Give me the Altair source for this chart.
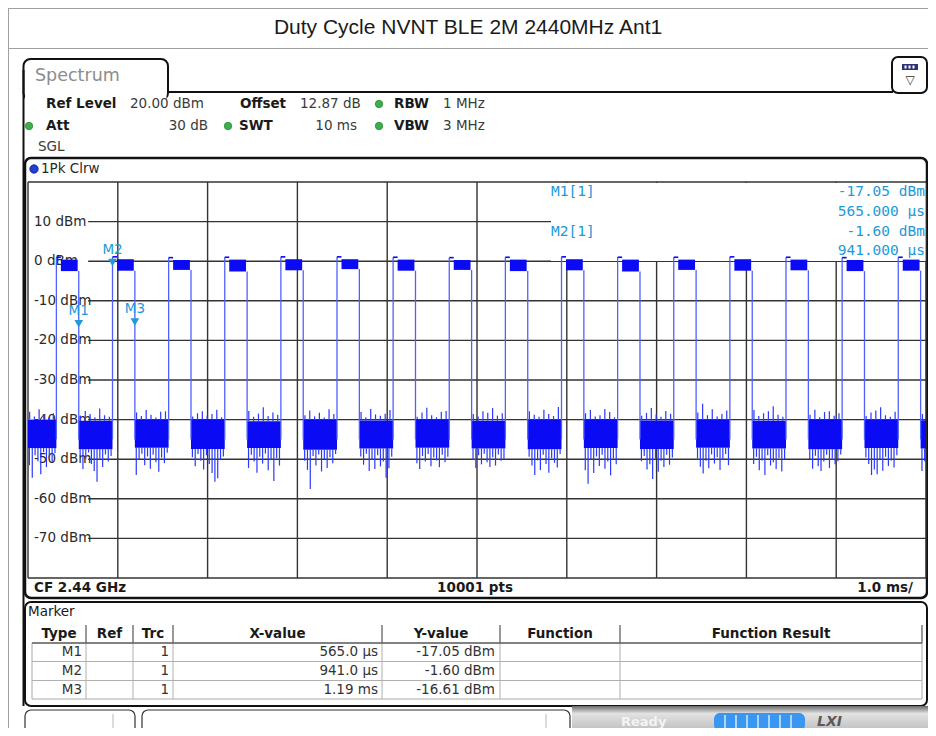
import altair as alt
import pandas as pd

# ---------------- chart values ----------------
title_text = "Duty Cycle NVNT BLE 2M 2440MHz Ant1"

y_tick_dbm = [10, 0, -10, -20, -30, -40, -50, -60, -70]
y_tick_labels = ["10 dBm", "0 dBm", "-10 dBm", "-20 dBm", "-30 dBm",
                 "-40 dBm", "-50 dBm", "-60 dBm", "-70 dBm"]
y_frame_dbm = [20, -80]
x_grid_ms = [0, 1, 2, 3, 4, 5, 6, 7, 8, 9, 10]

# burst edges (ms)
pulse_rise_ms = [0.316, 0.941, 1.566, 2.191, 2.816, 3.441, 4.066, 4.691,
                 5.316, 5.941, 6.566, 7.191, 7.816, 8.441, 9.066, 9.691]
pulse_fall_ms = [0.565, 1.190, 1.815, 2.440, 3.065, 3.690, 4.315, 4.940,
                 5.565, 6.190, 6.815, 7.440, 8.065, 8.690, 9.315, 9.940]
pulse_peak_dbm = [1.0, 1.1, 0.9, 1.0, 1.1, 1.1, 1.0, 0.9,
                  1.0, 1.1, 1.0, 1.0, 1.1, 1.0, 0.9, 1.0]
pulse_top_dbm = [0.4, 0.5, 0.3, 0.4, 0.5, 0.5, 0.4, 0.3,
                 0.4, 0.5, 0.4, 0.4, 0.5, 0.4, 0.3, 0.4]
pulse_bottom_dbm = [-2.5, -2.4, -2.2, -2.6, -2.3, -2.0, -2.4, -2.2,
                    -2.5, -2.3, -2.6, -2.2, -2.4, -2.3, -2.5, -2.4]

# noise floor between bursts
noise_start_ms = [0.000, 0.565, 1.190, 1.815, 2.440, 3.065, 3.690, 4.315, 4.940,
                  5.565, 6.190, 6.815, 7.440, 8.065, 8.690, 9.315, 9.940]
noise_end_ms = [0.316, 0.941, 1.566, 2.191, 2.816, 3.441, 4.066, 4.691, 5.316,
                5.941, 6.566, 7.191, 7.816, 8.441, 9.066, 9.691, 10.000]
noise_top_dbm = [-40.0, -40.3, -40.1, -40.0, -40.4, -40.1, -40.2, -40.0, -40.3,
                 -40.1, -40.0, -40.2, -40.1, -40.3, -40.0, -40.1, -40.2]
noise_bottom_dbm = [-47.2, -47.5, -47.1, -47.4, -47.2, -47.6, -47.3, -47.1, -47.3,
                    -47.5, -47.2, -47.4, -47.1, -47.3, -47.5, -47.2, -47.3]
noise_dips_dbm = [
    [-51.5, -54.7, -49.0, -50.5, -53.8, -48.2, -52.0, -49.5, -50.8, -48.5],
    [-49.0, -52.5, -50.0, -48.3, -51.2, -53.0, -55.7, -49.8, -52.0, -48.8, -50.6, -49.2],
    [-54.0, -50.2, -48.6, -51.5, -49.3, -52.4, -48.9, -50.8, -53.2, -49.6, -51.0, -48.4],
    [-49.5, -51.8, -48.7, -50.4, -52.6, -49.0, -51.2, -53.5, -55.7, -54.8, -50.1, -49.3],
    [-52.2, -48.9, -50.6, -53.4, -49.4, -51.1, -48.6, -52.8, -50.2, -55.5, -49.7, -51.6],
    [-50.4, -52.7, -57.5, -49.2, -51.6, -48.8, -53.1, -50.0, -52.2, -49.5, -51.0, -48.7],
    [-49.3, -51.4, -48.6, -53.0, -50.2, -52.5, -49.0, -51.8, -50.6, -54.7, -52.3, -49.4],
    [-51.0, -52.5, -49.2, -50.6, -48.7, -51.8, -49.6, -50.3, -52.0, -48.9, -50.8, -49.4],
    [-50.2, -52.2, -49.0, -51.3, -48.6, -50.8, -52.0, -49.5, -51.6, -48.8, -50.4, -49.9],
    [-49.4, -51.6, -54.0, -50.3, -52.7, -48.9, -51.2, -53.4, -49.7, -50.9, -52.1, -48.7],
    [-52.8, -56.2, -50.1, -53.5, -49.3, -51.7, -48.9, -52.4, -50.6, -54.1, -49.8, -51.3],
    [-50.5, -49.2, -52.6, -51.3, -55.0, -49.8, -53.2, -50.4, -52.0, -48.9, -51.4, -49.6],
    [-49.8, -51.9, -53.6, -50.4, -52.3, -48.8, -51.1, -49.5, -52.7, -50.2, -48.7, -51.5],
    [-51.2, -49.4, -52.8, -50.3, -54.0, -49.0, -51.6, -50.8, -52.5, -49.7, -53.1, -50.0],
    [-50.0, -52.4, -49.1, -51.8, -53.0, -50.6, -48.9, -52.2, -49.8, -51.3, -50.5, -48.8],
    [-49.6, -51.2, -54.0, -52.6, -53.8, -50.1, -52.9, -49.4, -51.7, -50.3, -52.1, -49.0],
    [-53.0, -50.5],
]
noise_peaks_dbm = [
    [-38.0, -39.2, -37.4, -38.8, -39.5, -38.4],
    [-39.0, -37.8, -38.6, -39.4, -37.2, -38.9, -39.3],
    [-38.2, -39.1, -37.6, -38.8, -39.5, -38.0, -37.9],
    [-39.2, -38.4, -37.9, -39.0, -38.6, -37.5, -39.4],
    [-37.8, -39.3, -38.5, -36.9, -39.1, -38.2, -38.8],
    [-38.9, -37.7, -39.2, -38.3, -39.5, -37.4, -38.6],
    [-38.1, -39.4, -37.3, -38.7, -39.0, -38.5, -37.6],
    [-39.3, -38.2, -37.0, -38.9, -39.4, -38.0, -37.8],
    [-38.6, -39.2, -37.9, -38.3, -37.1, -39.0, -38.4],
    [-37.9, -38.8, -39.3, -37.5, -38.6, -39.1, -36.8],
    [-38.4, -37.6, -39.2, -38.9, -37.3, -38.1, -39.4],
    [-39.0, -38.3, -37.1, -38.7, -39.3, -37.8, -38.5],
    [-38.2, -36.0, -38.9, -37.4, -39.2, -38.6, -37.7],
    [-37.6, -39.1, -38.4, -37.9, -36.6, -38.8, -39.3],
    [-38.8, -37.5, -39.4, -38.1, -37.9, -39.0, -38.4],
    [-39.1, -38.2, -37.7, -36.9, -38.9, -39.3, -38.0],
    [-38.6],
]

marker_names = ["M1", "M2", "M3"]
marker_trc = [1, 1, 1]
marker_x_ms = [0.565, 0.941, 1.19]
marker_y_dbm = [-17.05, -1.60, -16.61]

header_bold = [("Ref Level", 46, 104), ("Offset", 240, 104), ("RBW", 394, 104),
               ("Att", 46, 126), ("SWT", 239, 126), ("VBW", 394, 126)]
header_left = [("20.00 dBm", 130, 104), ("12.87 dB", 300, 104), ("1 MHz", 443, 104),
               ("3 MHz", 443, 126), ("SGL", 38, 147)]
header_right = [("30 dB", 208, 126), ("10 ms", 357, 126)]
status_dots = [(29, 126), (379, 104), (228, 126), (379, 126)]

table_columns = ["Type", "Ref", "Trc", "X-value", "Y-value", "Function", "Function Result"]

# ---------------- layout helpers ----------------
OX, OY = 28, 182          # image position of the plot area's top-left
PW, PH = 898, 396         # plot area (graticule) size

XS = alt.Scale(domain=[0, 10], nice=False, zero=False)
YS = alt.Scale(domain=[-80, 20], nice=False, zero=False)

TRACE = "#0a0af5"
EDGE = "#5060ff"
SPIKE = "#2838ff"
MK = "#2299d8"
GRID = "#333333"
SANS = "DejaVu Sans"


def X(f):
    return alt.X(f, type="quantitative", scale=XS, axis=None)


def Y(f):
    return alt.Y(f, type="quantitative", scale=YS, axis=None)


def px_rect(rows, **mk):
    df = pd.DataFrame([{"x": a - OX, "y": b - OY, "x2": c - OX, "y2": d - OY}
                       for a, b, c, d in rows])
    return alt.Chart(df).mark_rect(**mk).encode(
        x=alt.X("x:Q", scale=None, axis=None), x2="x2:Q",
        y=alt.Y("y:Q", scale=None, axis=None), y2="y2:Q")


def px_rule(rows, **mk):
    df = pd.DataFrame([{"x": a - OX, "y": b - OY, "x2": c - OX, "y2": d - OY}
                       for a, b, c, d in rows])
    return alt.Chart(df).mark_rule(**mk).encode(
        x=alt.X("x:Q", scale=None, axis=None), x2="x2:Q",
        y=alt.Y("y:Q", scale=None, axis=None), y2="y2:Q")


def px_text(rows, **mk):
    df = pd.DataFrame([{"t": t, "x": a - OX, "y": b - OY} for t, a, b in rows])
    return alt.Chart(df).mark_text(baseline="middle", **mk).encode(
        x=alt.X("x:Q", scale=None, axis=None),
        y=alt.Y("y:Q", scale=None, axis=None), text="t:N")


def px_point(rows, **mk):
    df = pd.DataFrame([{"x": a - OX, "y": b - OY} for a, b in rows])
    return alt.Chart(df).mark_point(**mk).encode(
        x=alt.X("x:Q", scale=None, axis=None),
        y=alt.Y("y:Q", scale=None, axis=None))


layers = []

# ---------------- page frame and title ----------------
layers.append(px_rule([(8.5, 8.5, 8.5, 736), (8, 8.5, 936, 8.5), (8, 48.5, 936, 48.5)],
                      color="#a0a0a0", strokeWidth=1))
layers.append(px_text([(title_text, 468, 28)], font="Liberation Sans", fontSize=21,
                      color="#1a1a1a", align="center"))

# ---------------- instrument screen ----------------
layers.append(px_rect([(23.5, 59, 168, 100)], cornerRadius=7, fill="white",
                      stroke="#111111", strokeWidth=2))
layers.append(px_rect([(25, 90, 166.5, 102)], fill="white"))
layers.append(px_rule([(23.5, 70, 23.5, 706), (167, 92, 893, 92)], color="#111111", strokeWidth=2))
layers.append(px_text([("Spectrum", 35, 76)], font=SANS, fontSize=17.5, color="#8c8c8c", align="left"))
layers.append(px_rect([(892, 57, 927, 93)], cornerRadius=6, fill="white",
                      stroke="#111111", strokeWidth=2))
layers.append(px_rect([(902, 64, 918, 70)], fill="#2c3278"))
layers.append(px_rule([(905.5, 65.5, 905.5, 68.5), (909.5, 65.5, 909.5, 68.5), (913.5, 65.5, 913.5, 68.5)],
                      color="white", strokeWidth=2))
layers.append(px_text([("\u25bd", 910, 80)], font=SANS, fontSize=12, color="#333", align="center"))

layers.append(px_text(header_bold, font=SANS, fontSize=13.5, fontWeight="bold",
                      color="#1a1a1a", align="left"))
layers.append(px_text(header_left, font=SANS, fontSize=13.5, color="#3a3a3a", align="left"))
layers.append(px_text(header_right, font=SANS, fontSize=13.5, color="#3a3a3a", align="right"))
layers.append(px_point(status_dots, shape="circle", size=55, filled=True, color="#3bb04a",
                       stroke="#2a8a35", strokeWidth=0.8, opacity=1))

# plot frame + trace label bar
layers.append(px_rect([(25, 158, 927, 598)], cornerRadius=6, fill="white",
                      stroke="#111111", strokeWidth=2.5))
layers.append(px_point([(34, 169)], shape="circle", size=70, filled=True, color="#1f3fd6",
                       stroke="#0a1a70", strokeWidth=0.8, opacity=1))
layers.append(px_text([("1Pk Clrw", 41, 169)], font=SANS, fontSize=13.5, color="#2a2a2a", align="left"))

# ---------------- graticule ----------------
vgrid = pd.DataFrame({"ms": x_grid_ms, "lo": -80, "hi": 20})
layers.append(alt.Chart(vgrid).mark_rule(color=GRID, strokeWidth=1.4).encode(
    x=X("ms"), y=Y("lo"), y2="hi:Q"))
hframe = pd.DataFrame({"dbm": y_frame_dbm, "a": 0, "b": 10})
layers.append(alt.Chart(hframe).mark_rule(color=GRID, strokeWidth=1.6).encode(
    y=Y("dbm"), x=X("a"), x2="b:Q"))
hgrid = pd.DataFrame({"dbm": y_tick_dbm, "a": 0.67, "b": 10})
layers.append(alt.Chart(hgrid).mark_rule(color=GRID, strokeWidth=1.4).encode(
    y=Y("dbm"), x=X("a"), x2="b:Q"))

# marker-info field (hides the graticule top-right)
layers.append(px_rect([(551, 183, 925.5, 261)], fill="white"))
ylab = pd.DataFrame({"dbm": y_tick_dbm, "lab": y_tick_labels})
layers.append(alt.Chart(ylab).mark_text(align="left", baseline="middle", font=SANS, fontSize=13.5,
                                        color="#2a2a2a", dx=6).encode(
    x=alt.value(0), y=Y("dbm"), text="lab:N"))

# ---------------- trace ----------------
band = pd.DataFrame({"a": noise_start_ms, "b": noise_end_ms,
                     "top": noise_top_dbm, "bot": noise_bottom_dbm})
layers.append(alt.Chart(band).mark_rect(color=TRACE).encode(
    x=X("a"), x2="b:Q", y=Y("top"), y2="bot:Q"))

spk = []
for i, (a, b) in enumerate(zip(noise_start_ms, noise_end_ms)):
    d = noise_dips_dbm[i]
    for k, v in enumerate(d):
        spk.append({"ms": a + (b - a) * (k + 0.5) / len(d), "y1": noise_bottom_dbm[i], "y2": v})
    p = noise_peaks_dbm[i]
    for k, v in enumerate(p):
        spk.append({"ms": a + (b - a) * (k + 0.35) / len(p), "y1": noise_top_dbm[i], "y2": v})
spk = pd.DataFrame(spk)
layers.append(alt.Chart(spk).mark_rule(color=SPIKE, strokeWidth=1.2).encode(
    x=X("ms"), y=Y("y1"), y2="y2:Q"))

pulses = pd.DataFrame({"rise": pulse_rise_ms, "fall": pulse_fall_ms,
                       "peak": pulse_peak_dbm, "top": pulse_top_dbm, "bot": pulse_bottom_dbm})
pulses["floor"] = -45.0
pulses["hook_end"] = pulses["rise"] + 0.05
pulses["blk_end"] = pulses["fall"] - 0.012
layers.append(alt.Chart(pulses).mark_rule(color=EDGE, strokeWidth=1.3).encode(
    x=X("rise"), y=Y("floor"), y2="peak:Q"))
layers.append(alt.Chart(pulses).mark_rule(color=EDGE, strokeWidth=1.3).encode(
    x=X("fall"), y=Y("bot"), y2="floor:Q"))
layers.append(alt.Chart(pulses).mark_rule(color=TRACE, strokeWidth=1.6).encode(
    x=X("rise"), x2="hook_end:Q", y=Y("peak")))
layers.append(alt.Chart(pulses).mark_rect(color=TRACE).encode(
    x=X("hook_end"), x2="blk_end:Q", y=Y("top"), y2="bot:Q"))

# ---------------- markers ----------------
mk = pd.DataFrame({"name": marker_names, "ms": marker_x_ms, "dbm": marker_y_dbm})
layers.append(alt.Chart(mk).mark_point(shape="triangle-down", size=75, filled=True,
                                       color=MK, opacity=1, yOffset=-5).encode(
    x=X("ms"), y=Y("dbm")))
layers.append(alt.Chart(mk).mark_text(font=SANS, fontSize=13.5, color=MK, dy=-18,
                                      baseline="middle", align="center").encode(
    x=X("ms"), y=Y("dbm"), text="name:N"))

info_left = [(f"{marker_names[0]}[{marker_trc[0]}]", 551, 192),
             (f"{marker_names[1]}[{marker_trc[1]}]", 551, 232)]
info_right = [(f"{marker_y_dbm[0]:.2f} dBm", 925, 192),
              (f"{marker_x_ms[0] * 1000:.3f} \u00b5s", 925, 212),
              (f"{marker_y_dbm[1]:.2f} dBm", 925, 232),
              (f"{marker_x_ms[1] * 1000:.3f} \u00b5s", 925, 251)]
layers.append(px_text(info_left, font="DejaVu Sans Mono", fontSize=14.5, color=MK, align="left"))
layers.append(px_text(info_right, font="DejaVu Sans Mono", fontSize=14.5, color=MK, align="right"))

# footer of the diagram
layers.append(px_text([("CF 2.44 GHz", 34, 588)], font=SANS, fontSize=13.5, fontWeight="bold",
                      color="#1a1a1a", align="left"))
layers.append(px_text([("10001 pts", 475, 588)], font=SANS, fontSize=13.5, fontWeight="bold",
                      color="#1a1a1a", align="center"))
layers.append(px_text([("1.0 ms/", 913, 588)], font=SANS, fontSize=13.5, fontWeight="bold",
                      color="#1a1a1a", align="right"))

# ---------------- marker table ----------------
layers.append(px_rect([(25, 602, 927, 706)], cornerRadius=6, fill="white",
                      stroke="#111111", strokeWidth=2))
layers.append(px_text([("Marker", 28, 612)], font=SANS, fontSize=13.5, color="#1a1a1a", align="left"))
col_edges = [32, 86, 133, 173, 382, 500, 620, 922]
layers.append(px_rect([(32, 643, 922, 699)], fillOpacity=0, stroke="#a8a8a8", strokeWidth=1))
layers.append(px_rule([(32, 661.5, 922, 661.5), (32, 680.5, 922, 680.5)], color="#b0b0b0", strokeWidth=1))
layers.append(px_rule([(c, 643, c, 699) for c in col_edges[1:-1]], color="#b0b0b0", strokeWidth=1))
layers.append(px_rule([(c, 625, c, 643) for c in col_edges[1:]], color="#555555", strokeWidth=1.2))
layers.append(px_rule([(32, 643, 922, 643)], color="#666666", strokeWidth=1.5))
hdr = [(t, (col_edges[i] + col_edges[i + 1]) / 2, 634) for i, t in enumerate(table_columns)]
layers.append(px_text(hdr, font=SANS, fontSize=13.5, fontWeight="bold", color="#1a1a1a", align="center"))


def fmt_x(ms):
    return f"{ms * 1000:.1f} \u00b5s" if ms < 1 else f"{ms:.2f} ms"


rows_y = [652, 671, 690]
tbl = []
for i, n in enumerate(marker_names):
    tbl += [(n, 82, rows_y[i]), (str(marker_trc[i]), 169, rows_y[i]),
            (fmt_x(marker_x_ms[i]), 378, rows_y[i]), (f"{marker_y_dbm[i]:.2f} dBm", 495, rows_y[i])]
layers.append(px_text(tbl, font=SANS, fontSize=13.5, color="#333333", align="right"))

# ---------------- status bar ----------------
layers.append(px_rect([(572, 706, 936, 736)],
                      fill=alt.LinearGradient(gradient="linear",
                                              stops=[alt.GradientStop(offset=0, color="#6a6a6a"),
                                                     alt.GradientStop(offset=0.25, color="#e2e2e2"),
                                                     alt.GradientStop(offset=1, color="#b4b4b4")],
                                              x1=0, x2=0, y1=0, y2=1)))
layers.append(px_rect([(25, 710, 135, 742), (142, 710, 570, 742)], cornerRadius=6, fill="white",
                      stroke="#333333", strokeWidth=1.2))
layers.append(px_rule([(113, 714, 113, 736), (546, 714, 546, 736)], color="#b8b8b8", strokeWidth=1))
layers.append(px_text([("Ready", 621, 722)], font=SANS, fontSize=13, fontWeight="bold",
                      color="#f4f4f4", align="left"))
layers.append(px_rect([(714, 713, 805, 731)], cornerRadius=6, fill="#3996f2"))
layers.append(px_rule([(x, 715, x, 729) for x in [725, 736, 747, 758, 769, 780, 791]],
                      color="white", strokeWidth=1.2))
layers.append(px_text([("LXI", 817, 722)], font=SANS, fontSize=14, fontWeight="bold",
                      fontStyle="italic", color="#5a5a5a", align="left"))

chart = alt.layer(*layers).properties(
    width=PW, height=PH,
    padding={"left": OX - 8, "top": OY - 8, "right": 2, "bottom": 720 - (OY - 8) - PH},
    autosize=alt.AutoSizeParams(type="none"),
    background="white",
).configure_view(stroke=None)

chart.save("out.html", embed_options={"renderer": "svg", "actions": False})
